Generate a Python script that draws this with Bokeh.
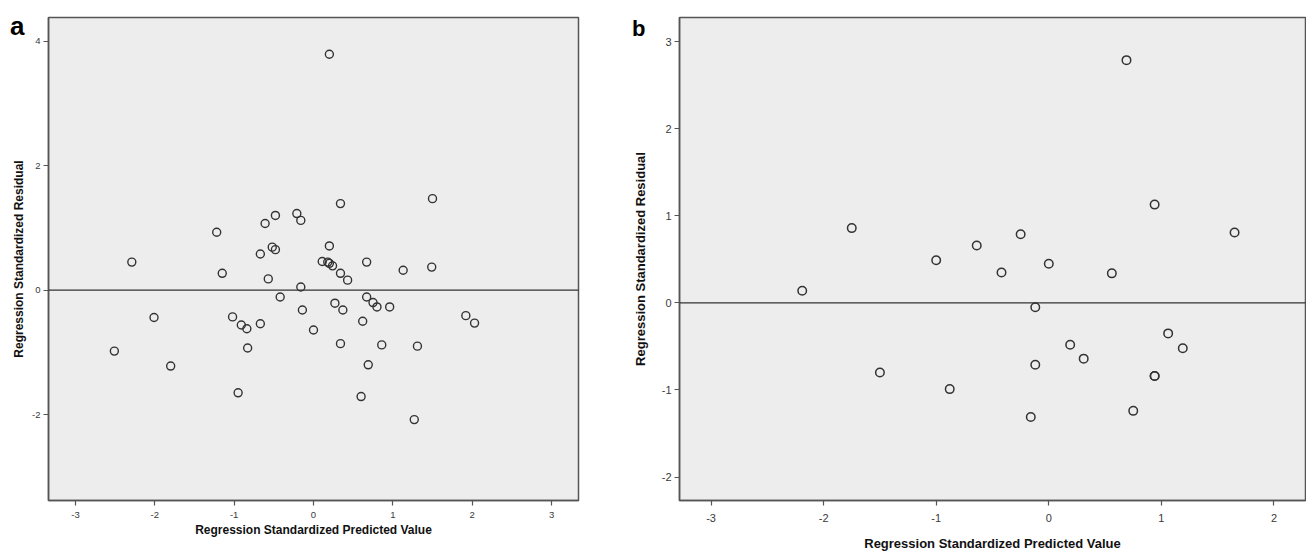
from bokeh.plotting import figure
from bokeh.layouts import row
from bokeh.models import FixedTicker, Span, LinearAxis, PrintfTickFormatter
from bokeh.embed import file_html
from bokeh.resources import INLINE

# Panel a data
a_pred = [0.20, 1.50, 0.34, -1.22, -0.48, -0.61, -0.21, -0.16, -0.52, -0.48,
          -0.67, 0.20, 0.11, 0.18, 0.20, 0.24, 0.34, 0.43, 0.67, 1.13,
          1.49, -1.15, -2.29, -0.57, -0.16, -0.42, -0.14, 0.27, 0.37, 0.00,
          0.67, 0.75, 0.80, 0.96, 0.62, 0.34, 0.86, 1.31, 0.69, 0.60,
          1.27, 1.92, 2.03, -2.01, -1.02, -0.91, -0.84, -0.67, -0.83, -2.51,
          -1.80, -0.95]
a_resid = [3.79, 1.47, 1.39, 0.93, 1.20, 1.07, 1.23, 1.12, 0.69, 0.65,
           0.58, 0.71, 0.46, 0.45, 0.43, 0.39, 0.27, 0.16, 0.45, 0.32,
           0.37, 0.27, 0.45, 0.18, 0.05, -0.11, -0.32, -0.21, -0.32, -0.64,
           -0.11, -0.20, -0.27, -0.27, -0.50, -0.86, -0.88, -0.90, -1.20, -1.71,
           -2.08, -0.41, -0.53, -0.44, -0.43, -0.56, -0.62, -0.54, -0.93, -0.98,
           -1.22, -1.65]

# Panel b data
b_pred = [-1.75, -1.00, 0.69, 0.94, 1.65, -0.25, -0.64, 0.00, -0.42, 0.56,
          -2.19, -1.50, -0.88, -0.12, 1.06, 1.19, 0.19, 0.31, -0.12, 0.94,
          0.94, 0.75, -0.16]
b_resid = [0.86, 0.49, 2.79, 1.13, 0.81, 0.79, 0.66, 0.45, 0.35, 0.34,
           0.14, -0.80, -0.99, -0.05, -0.35, -0.52, -0.48, -0.64, -0.71, -0.84,
           -0.84, -1.24, -1.31]

a_xticks = [-3, -2, -1, 0, 1, 2, 3]
a_yticks = [-2, 0, 2, 4]
b_xticks = [-3, -2, -1, 0, 1, 2]
b_yticks = [-2, -1, 0, 1, 2, 3]

x_title = "Regression Standardized Predicted Value"
y_title = "Regression Standardized Residual"
panel_a = "a"
panel_b = "b"

FONT = "Liberation Sans"
BG = "#ededed"
EDGE = "#555555"


def style(p, xt, yt, lab_size, tick_size, xls, xas):
    p.background_fill_color = BG
    p.border_fill_color = "white"
    p.outline_line_color = EDGE
    p.outline_line_width = 1.5
    p.xgrid.visible = False
    p.ygrid.visible = False
    p.xaxis.ticker = FixedTicker(ticks=xt)
    p.yaxis.ticker = FixedTicker(ticks=yt)
    for ax in (p.xaxis[0], p.yaxis[0]):
        ax.formatter = PrintfTickFormatter(format="%d")
        ax.axis_line_color = EDGE
        ax.axis_line_width = 1.5
        ax.major_tick_line_color = EDGE
        ax.major_tick_line_width = 1.2
        ax.major_tick_out = 5
        ax.major_tick_in = 0
        ax.minor_tick_line_color = None
        ax.major_label_text_font = FONT
        ax.major_label_text_font_size = tick_size
        ax.major_label_text_color = "#3a3a3a"
        ax.axis_label_text_font = FONT
        ax.axis_label_text_font_style = "bold"
        ax.axis_label_text_font_size = lab_size
        ax.axis_label_text_color = "#111111"
    p.xaxis.axis_label = x_title
    p.xaxis.major_label_standoff = xls
    p.yaxis.major_label_standoff = 3
    p.xaxis.axis_label_standoff = xas
    p.add_layout(Span(location=0, dimension="width", line_color="#333333", line_width=1.2))


def letter_axis(p, letter, at, size, lab_size, label_standoff, title_standoff):
    # outer left axis: carries the panel letter (as its only tick label) and the y title
    ax = LinearAxis(ticker=FixedTicker(ticks=[at]), major_label_overrides={at: letter})
    ax.axis_line_color = None
    ax.major_tick_line_color = None
    ax.minor_tick_line_color = None
    ax.major_tick_out = 0
    ax.major_tick_in = 0
    ax.major_label_standoff = label_standoff
    ax.major_label_text_font = FONT
    ax.major_label_text_font_style = "bold"
    ax.major_label_text_font_size = size
    ax.major_label_text_color = "black"
    ax.axis_label = y_title
    ax.axis_label_text_font = FONT
    ax.axis_label_text_font_style = "bold"
    ax.axis_label_text_font_size = lab_size
    ax.axis_label_text_color = "#111111"
    ax.axis_label_standoff = title_standoff
    p.add_layout(ax, "left")


p1 = figure(width=620, height=553, x_range=(-3.34, 3.34), y_range=(-3.38, 4.38),
            output_backend="svg", toolbar_location=None,
            min_border_left=48, min_border_right=42, min_border_top=16, min_border_bottom=52)
style(p1, a_xticks, a_yticks, "12px", "9.5px", 6, 2)
p1.scatter(a_pred, a_resid, marker="circle", size=8, fill_color=None,
           line_color="#333333", line_width=1.4)
letter_axis(p1, panel_a, 4.24, "26px", "12px", 5, -19)

p2 = figure(width=686, height=553, x_range=(-3.28, 2.28), y_range=(-2.27, 3.28),
            output_backend="svg", toolbar_location=None,
            min_border_left=59, min_border_right=1, min_border_top=17, min_border_bottom=50)
style(p2, b_xticks, b_yticks, "13px", "11px", 8, 11)
p2.scatter(b_pred, b_resid, marker="circle", size=8.5, fill_color=None,
           line_color="#333333", line_width=1.5)
letter_axis(p2, panel_b, 3.15, "22px", "13px", 13, -19)

layout = row(p1, p2)
open("out.html", "w").write(file_html(layout, INLINE))
